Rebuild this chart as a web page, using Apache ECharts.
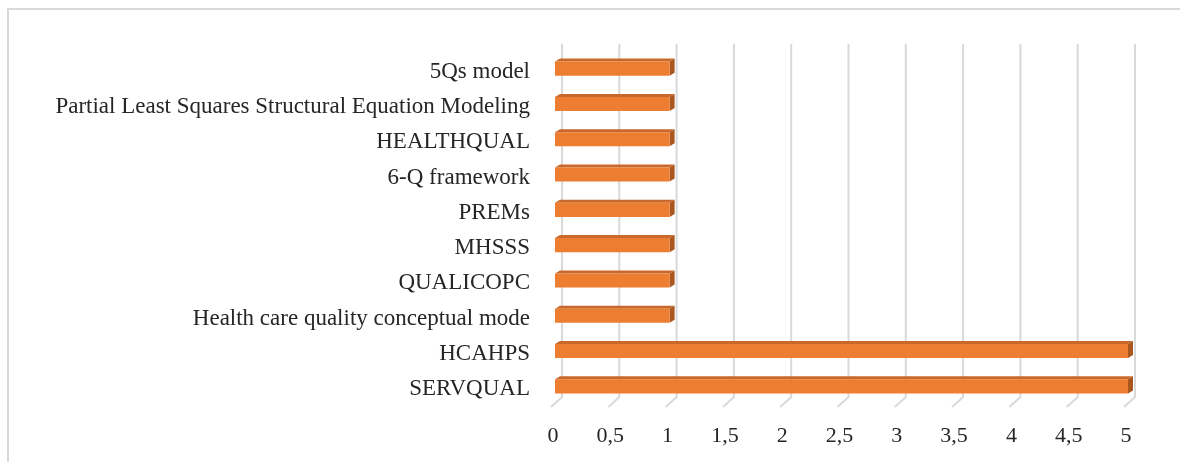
<!DOCTYPE html>
<html>
<head>
<meta charset="utf-8">
<script src="https://cdn.jsdelivr.net/npm/echarts@6/dist/echarts.min.js"></script>
<style>
    html, body { margin: 0; padding: 0; background: #fff; }
    #chart { width: 1180px; height: 462px; }
</style>
</head>
<body>
<div id="chart"></div>
<script>
// categories from bottom to top
const categories = [
    "SERVQUAL",
    "HCAHPS",
    "Health care quality conceptual mode",
    "QUALICOPC",
    "MHSSS",
    "PREMs",
    "6-Q framework",
    "HEALTHQUAL",
    "Partial Least Squares Structural Equation Modeling",
    "5Qs model"
];
const values = [5, 5, 1, 1, 1, 1, 1, 1, 1, 1];
const xTicks = [0, 0.5, 1, 1.5, 2, 2.5, 3, 3.5, 4, 4.5, 5];

let chart = echarts.init(document.getElementById("chart"));

chart.setOption({
    animation: false,
    graphic: [
        {
            type: "rect",
            shape: { x: 8, y: 9, width: 1300, height: 600 },
            style: { fill: "none", stroke: "#d9d9d9", lineWidth: 2 },
            silent: true
        }
    ],
    grid: {
        left: 553,
        right: 54,
        top: 54,
        height: 353
    },
    xAxis: {
        type: "value",
        min: 0,
        max: 5,
        interval: 0.5,
        axisLine: { show: false },
        axisTick: { show: false },
        splitLine: { show: false },
        axisLabel: {
            margin: 18,
            fontFamily: "Liberation Serif",
            fontSize: 22,
            color: "#262626",
            formatter: function (v) {
                return String(v).replace(".", ",");
            }
        }
    },
    yAxis: {
        type: "category",
        data: categories,
        axisLine: { show: false },
        axisTick: { show: false },
        axisLabel: {
            margin: 23,
            fontFamily: "Liberation Serif",
            fontSize: 23,
            color: "#262626"
        }
    },
    series: [
        {
            // 3D back wall gridlines + floor diagonals
            type: "custom",
            silent: true,
            clip: false,
            z: 1,
            data: xTicks.map(function (t) { return [t, 0]; }),
            encode: { x: 0, y: 1 },
            renderItem: function (params, api) {
                const p = api.coord([api.value(0), 0]);
                const cs = params.coordSys;
                const top = cs.y - 10;
                const backBottom = cs.y + cs.height - 10;
                const frontBottom = cs.y + cs.height;
                return {
                    type: "polyline",
                    shape: {
                        points: [
                            [p[0] + 9, top],
                            [p[0] + 9, backBottom],
                            [p[0] - 2, frontBottom]
                        ]
                    },
                    style: { fill: "none", stroke: "#d9d9d9", lineWidth: 2 }
                };
            }
        },
        {
            // 3D bars (sit a little above the label line)
            type: "custom",
            clip: false,
            z: 2,
            data: values.map(function (v, i) { return [v, i]; }),
            encode: { x: 0, y: 1 },
            renderItem: function (params, api) {
                const v = api.value(0);
                const idx = api.value(1);
                const p0 = api.coord([0, idx]);
                const p1 = api.coord([v, idx]);
                const band = api.size([0, 1])[1];
                const h = band * 0.4;
                const x0 = p0[0] + 2;
                const x1 = p1[0] + 2;
                const yMid = p0[1] - 3;
                const yTop = yMid - h / 2;
                const yBot = yMid + h / 2;
                const dx = 5, dy = 3;
                return {
                    type: "group",
                    children: [
                        {
                            type: "polygon",
                            shape: {
                                points: [[x0, yTop], [x1, yTop], [x1 + dx, yTop - dy], [x0 + dx, yTop - dy]]
                            },
                            style: { fill: "#c8682a" }
                        },
                        {
                            type: "polygon",
                            shape: {
                                points: [[x1, yTop], [x1 + dx, yTop - dy], [x1 + dx, yBot - dy], [x1, yBot]]
                            },
                            style: { fill: "#a9561f" }
                        },
                        {
                            type: "rect",
                            shape: { x: x0, y: yTop, width: x1 - x0, height: h },
                            style: { fill: "#ed7d31" }
                        }
                    ]
                };
            }
        }
    ]
});
</script>
</body>
</html>
